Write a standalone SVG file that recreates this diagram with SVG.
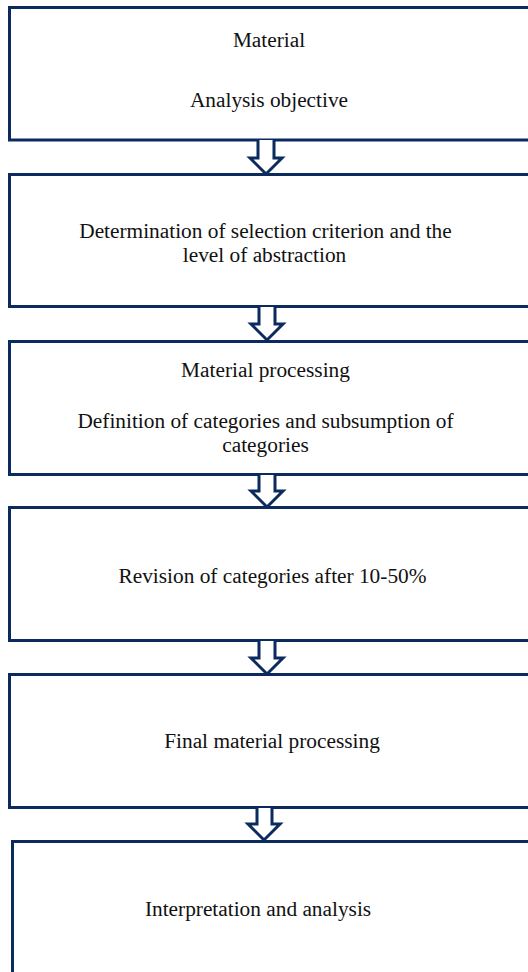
<svg xmlns="http://www.w3.org/2000/svg" width="528" height="972" viewBox="0 0 528 972">
<style>
.box{fill:#ffffff;stroke:#0b2b5e;stroke-width:3}
.arr{fill:#ffffff;stroke:#0b2b5e;stroke-width:3;stroke-linejoin:miter}
text{font-family:"Liberation Serif","Times New Roman",serif;font-size:21.33px;fill:#111111;text-anchor:middle}
</style>
<rect width="528" height="972" fill="#ffffff"/>
<g id="n1"><rect class="box" x="9.5" y="7.5" width="521" height="132.5"/>
<text x="269" y="47">Material</text>
<text x="269" y="107">Analysis objective</text></g>
<g id="n2"><rect class="box" x="9.5" y="174.5" width="521" height="132"/>
<text x="265.5" y="238">Determination of selection criterion and the</text>
<text x="264.5" y="262">level of abstraction</text></g>
<g id="n3"><rect class="box" x="9.5" y="341.5" width="521" height="133"/>
<text x="265.5" y="377">Material processing</text>
<text x="265.5" y="428">Definition of categories and subsumption of</text>
<text x="265.5" y="452">categories</text></g>
<g id="n4"><rect class="box" x="9.5" y="507.5" width="521" height="133"/>
<text x="272.5" y="583">Revision of categories after 10-50%</text></g>
<g id="n5"><rect class="box" x="9.5" y="674.5" width="521" height="133"/>
<text x="272" y="748">Final material processing</text></g>
<g id="n6"><rect class="box" x="12.5" y="841.5" width="518" height="140"/>
<text x="258" y="916">Interpretation and analysis</text></g>
<g id="connectors">
<path class="arr" d="M258 140 V158 H250 L266 174 L282 158 H274 V140"/>
<path class="arr" d="M259 307 V324 H251 L267 340 L283 324 H275 V307"/>
<path class="arr" d="M259 475 V491 H251 L267 507 L283 491 H275 V475"/>
<path class="arr" d="M259 641 V658 H251 L267 674 L283 658 H275 V641"/>
<path class="arr" d="M257 808 V824 H248 L264 840 L280 824 H272 V808"/>
</g>
</svg>
